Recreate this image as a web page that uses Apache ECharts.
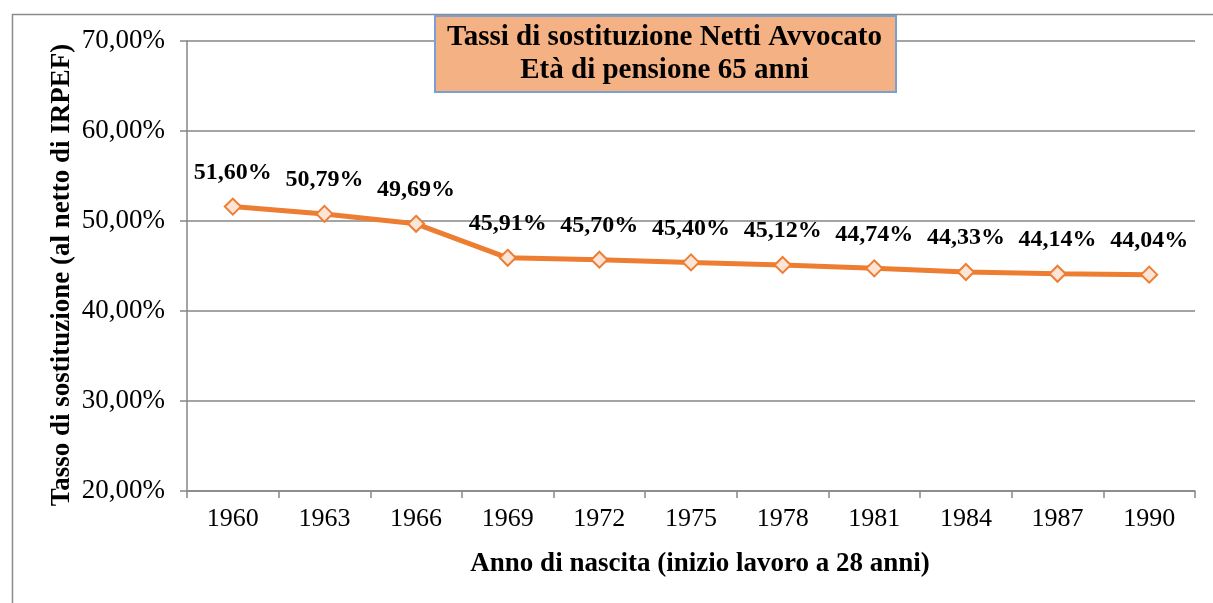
<!DOCTYPE html>
<html>
<head>
<meta charset="utf-8">
<script src="https://cdn.jsdelivr.net/npm/echarts@6/dist/echarts.min.js"></script>
<style>
html,body{margin:0;padding:0;background:#fff;}
#chart{width:1213px;height:603px;}
</style>
</head>
<body>
<div id="chart"></div>
<script>
const categories = ['1960','1963','1966','1969','1972','1975','1978','1981','1984','1987','1990'];
const values = [51.60, 50.79, 49.69, 45.91, 45.70, 45.40, 45.12, 44.74, 44.33, 44.14, 44.04];
const titleLines = ['Tassi di sostituzione Netti Avvocato', 'Età di pensione 65 anni'];
const xName = 'Anno di nascita (inizio lavoro a 28 anni)';
const yName = 'Tasso di sostituzione (al netto di IRPEF)';

const FONT = '"Liberation Serif", "Times New Roman", serif';
const fmt = v => v.toFixed(2).replace('.', ',') + '%';

const chart = echarts.init(document.getElementById('chart'));
chart.setOption({
  animation: false,
  backgroundColor: '#ffffff',
  grid: { left: 187, right: 18, top: 41, bottom: 112, containLabel: false },
  xAxis: {
    type: 'category',
    data: categories,
    boundaryGap: true,
    name: xName,
    nameLocation: 'middle',
    nameGap: 60,
    nameTextStyle: { fontFamily: FONT, fontWeight: 'bold', fontSize: 27, color: '#000', padding: [0, 0, 0, 18] },
    axisLine: { show: true, lineStyle: { color: '#868686', width: 1.5 } },
    axisTick: { show: true, length: 7, alignWithLabel: false, lineStyle: { color: '#868686', width: 1.5 } },
    axisLabel: { fontFamily: FONT, fontSize: 26, color: '#000', margin: 15 },
    splitLine: { show: false }
  },
  yAxis: {
    type: 'value',
    min: 20, max: 70, interval: 10,
    axisLine: { show: true, lineStyle: { color: '#868686', width: 1.5 } },
    axisTick: { show: true, length: 7, lineStyle: { color: '#868686', width: 1.5 } },
    axisLabel: { fontFamily: FONT, fontSize: 27, color: '#000', margin: 22, formatter: fmt },
    splitLine: { show: true, lineStyle: { color: '#868686', width: 1.5 } }
  },
  series: [{
    type: 'line',
    data: values,
    symbol: 'diamond',
    symbolSize: 16,
    lineStyle: { color: '#ED7D31', width: 5 },
    itemStyle: { color: '#FCE4D6', borderColor: '#ED7D31', borderWidth: 2 },
    label: {
      show: true, position: 'top', distance: 13,
      fontFamily: FONT, fontWeight: 'bold', fontSize: 24, color: '#000',
      formatter: p => fmt(p.value)
    },
    z: 3
  }],
  graphic: [
    { type: 'rect', left: 10, top: 12, z: 0, silent: true,
      shape: { width: 1230, height: 640 },
      style: { fill: 'none', stroke: '#8c8c8c', lineWidth: 1.5 } },
    { type: 'rect', left: 434, top: 15, z: 10,
      shape: { width: 461, height: 76 },
      style: { fill: '#F4B183', stroke: '#7A9FD3', lineWidth: 2 } },
    { type: 'text', x: 664.5, y: 38, z: 11,
      style: { text: titleLines[0], font: 'bold 29px ' + FONT, fill: '#000', align: 'center', verticalAlign: 'middle' } },
    { type: 'text', x: 664.5, y: 71, z: 11,
      style: { text: titleLines[1], font: 'bold 29px ' + FONT, fill: '#000', align: 'center', verticalAlign: 'middle' } },
    { type: 'text', x: 62, y: 275, rotation: Math.PI / 2, z: 11,
      style: { text: yName, font: 'bold 27px ' + FONT, fill: '#000', align: 'center', verticalAlign: 'middle' } }
  ]
});
</script>
</body>
</html>
